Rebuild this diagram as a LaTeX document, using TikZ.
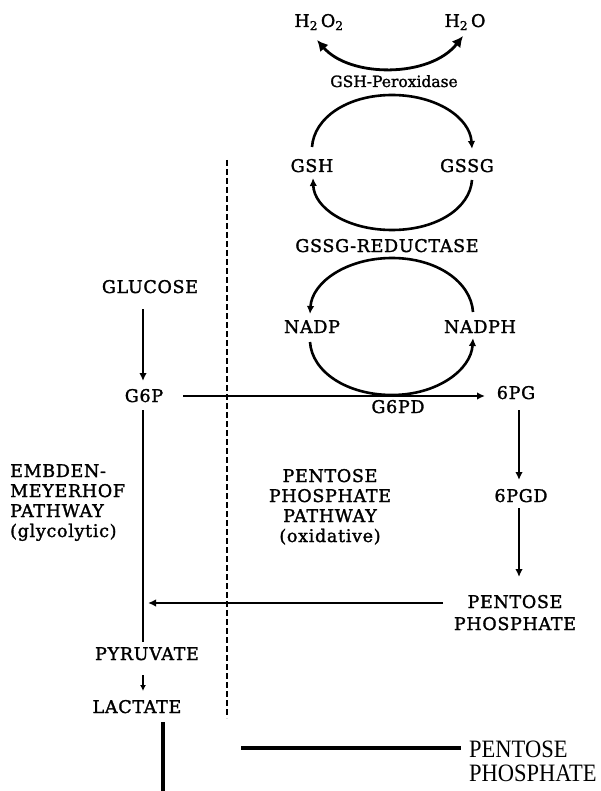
\documentclass[tikz,border=0pt]{standalone}
\usepackage{fontspec}
\usetikzlibrary{arrows.meta}
\newfontfamily\labfont{DejaVu Serif}[LetterSpace=4,FakeBold=1.6]
\newfontfamily\labfontsm{DejaVu Serif}[FakeBold=1.4]
\newfontfamily\thinfont{Liberation Serif}[FakeStretch=0.9]
\begin{document}
\begin{tikzpicture}[x=1pt,y=-1pt,
  lab/.style={font={\labfont\fontsize{17.5}{20}\selectfont}, inner sep=0pt, anchor=base},
  conn/.style={line width=2.6pt},
  arr/.style={conn, -{Latex[length=8pt,width=7.5pt]}},
  bigarr/.style={line width=2.8pt, {Latex[length=11pt,width=11pt]}-{Latex[length=11pt,width=11pt]}},
  divider/.style={line width=2.2pt, dash pattern=on 6pt off 3pt},
  thick line/.style={line width=3.2pt},
  thinlab/.style={font={\thinfont\fontsize{25}{24}\selectfont}, inner sep=0pt, anchor=base west}]
\useasboundingbox (0,0) rectangle (600,791);

% labels
\node[lab] (h2o2) at (319,27) {H\textsubscript{2}\,O\textsubscript{2}};
\node[lab] (h2o) at (465,27) {H\textsubscript{2}\,O};
\node[lab, font={\labfontsm\fontsize{15.5}{18}\selectfont}] (gpx) at (394,87) {GSH-Peroxidase};
\node[lab] (gsh) at (312,172) {GSH};
\node[lab] (gssg) at (467,172) {GSSG};
\node[lab] (gred) at (387,252) {GSSG-REDUCTASE};
\node[lab] (nadp) at (312,333) {NADP};
\node[lab] (nadph) at (480,333) {NADPH};
\node[lab] (g6pd) at (398,413) {G6PD};
\node[lab] (glc) at (150,293) {GLUCOSE};
\node[lab] (g6p) at (144,402) {G6P};
\node[lab] (pg) at (516,399) {6PG};
\node[lab] (pgd) at (521,502) {6PGD};
\node[lab] (pp) at (515,608) {\begin{tabular}[t]{@{}c@{}}PENTOSE\\[2pt]PHOSPHATE\end{tabular}};
\node[lab, anchor=base west] (emp) at (10,477) {\begin{tabular}[t]{@{}l@{}}EMBDEN-\\MEYERHOF\\PATHWAY\\(glycolytic)\end{tabular}};
\node[lab] (ppp) at (330,482) {\begin{tabular}[t]{@{}c@{}}PENTOSE\\PHOSPHATE\\PATHWAY\\(oxidative)\end{tabular}};
\node[lab] (pyr) at (147,660) {PYRUVATE};
\node[lab] (lac) at (137,713) {LACTATE};
\node[thinlab] (pp2) at (469,757) {\begin{tabular}[t]{@{}l@{}}PENTOSE\\PHOSPHATE\end{tabular}};

% connector end points
\coordinate (a1) at (317,40);
\coordinate (a2) at (463,36);
\coordinate (c1s) at (312,147);
\coordinate (c1e) at (472,149);
\coordinate (c2s) at (472,180);
\coordinate (c2e) at (313,178);
\coordinate (n1s) at (473,312);
\coordinate (n1e) at (310,314);
\coordinate (n2s) at (310,342);
\coordinate (n2e) at (473,338);
\coordinate (h1) at (183,396);
\coordinate (h2) at (485,396);
\coordinate (gl1) at (143,309);
\coordinate (gl2) at (143,381);
\coordinate (gy1) at (143,410);
\coordinate (gy2) at (143,642);
\coordinate (pg1) at (519,410);
\coordinate (pg2) at (519,480);
\coordinate (pd1) at (519,508);
\coordinate (pd2) at (519,577);
\coordinate (r1) at (443,603);
\coordinate (r2) at (148,603);
\coordinate (d1) at (227,160);
\coordinate (d2) at (227,718);
\coordinate (pl1) at (143,675);
\coordinate (pl2) at (143,691);
\coordinate (b1) at (163,722);
\coordinate (b2) at (163,791);
\coordinate (b3) at (241,748);
\coordinate (b4) at (461,748);

% cycles
\draw[bigarr] (a1) .. controls (350,78) and (430,78) .. (a2);
\draw[arr] (c1s) .. controls (314,118) and (347,95) .. (392,95) .. controls (437,95) and (470,118) .. (c1e);
\draw[arr] (c2s) .. controls (470,208) and (437,230) .. (392,230) .. controls (347,230) and (314,208) .. (c2e);
\draw[arr] (n1s) .. controls (471,282) and (437,258) .. (392,258) .. controls (347,258) and (312,282) .. (n1e);
\draw[arr] (n2s) .. controls (312,372) and (347,395) .. (392,395) .. controls (437,395) and (471,370) .. (n2e);

% pathways
\draw[arr] (h1) -- (h2);
\draw[arr] (gl1) -- (gl2);
\draw[conn] (gy1) -- (gy2);
\draw[arr] (pg1) -- (pg2);
\draw[arr] (pd1) -- (pd2);
\draw[arr] (r1) -- (r2);
\draw[divider] (d1) -- (d2);
\draw[line width=2.4pt, -{Latex[length=6pt,width=6pt]}] (pl1) -- (pl2);
\draw[thick line] (b1) -- (b2);
\draw[line width=4pt] (b3) -- (b4);
\end{tikzpicture}
\end{document}
